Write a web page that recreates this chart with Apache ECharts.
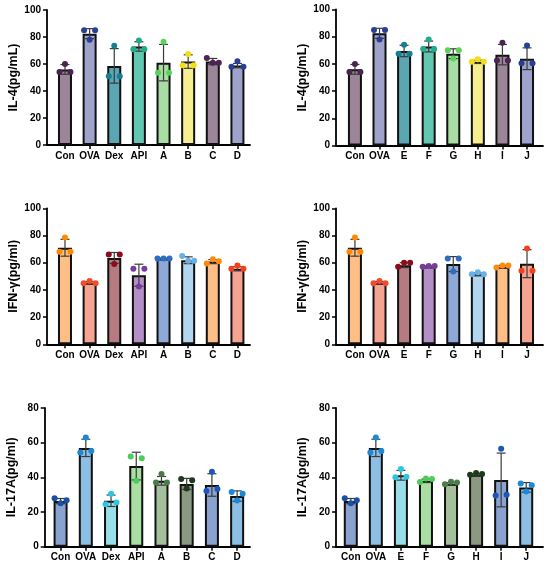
<!DOCTYPE html>
<html>
<head>
<meta charset="utf-8">
<script src="https://cdn.jsdelivr.net/npm/echarts@6/dist/echarts.min.js"></script>
<style>
html, body { margin: 0; padding: 0; background: #fff; }
#main { width: 550px; height: 569px; }
</style>
</head>
<body>
<div id="main"></div>
<script>
// groups
var groupsLeft = ['Con', 'OVA', 'Dex', 'API', 'A', 'B', 'C', 'D'];
var groupsRight = ['Con', 'OVA', 'E', 'F', 'G', 'H', 'I', 'J'];

// IL-4, left panel
var il4LeftMean = [56, 82.5, 58.6, 73, 61, 61.8, 61.8, 58.8];
var il4LeftSd = [3.6, 3.7, 12.8, 3.5, 13.5, 5, 2.3, 1.6];
var il4LeftDots = [[60, 54, 54], [85, 78, 85], [51, 73.5, 51], [71, 77.5, 71],
    [53.5, 76.5, 53.5], [59, 67.5, 59], [64.5, 61, 61], [58, 62, 58]];

// IL-4, right panel
var il4RightMean = [56, 82.5, 69.5, 72.8, 67.5, 61.5, 66.8, 63.8];
var il4RightSd = [3.6, 3.7, 4.2, 4, 3.6, 1.2, 7.5, 8];
var il4RightDots = [[60, 54, 54], [85, 78, 85], [67.5, 74, 67.5], [71, 78, 71],
    [70, 64, 70], [61.5, 63.5, 61.5], [62.5, 75.5, 62.5], [60.5, 73.5, 60.5]];

// IFN-γ, left panel
var ifnLeftMean = [71, 45.3, 63.5, 50.8, 63, 61.8, 60.8, 55.5];
var ifnLeftSd = [6.2, 0.9, 4, 8.1, 0.4, 2.5, 1.5, 1.5];
var ifnLeftDots = [[68, 78.5, 68], [44.8, 46.5, 44.8], [66, 59, 66], [55.5, 42.5, 55.5],
    [63, 63, 63], [65, 61.5, 61.5], [59.5, 62.5, 61], [55.5, 58, 55.5]];

// IFN-γ, right panel
var ifnRightMean = [71, 45.3, 58.2, 57.2, 59, 51.5, 57, 59.3];
var ifnRightSd = [6.2, 0.9, 1.8, 0.6, 5.5, 1, 1, 10.3];
var ifnRightDots = [[68, 78.5, 68], [44.8, 46.5, 44.8], [57, 60, 60], [57, 57.5, 57.5],
    [63, 53.5, 63], [51.5, 53, 51.5], [56.5, 58, 58], [54, 70.5, 54]];

// IL-17A, left panel
var il17LeftMean = [26.3, 57, 26.5, 46.5, 38, 36.2, 35.6, 29.2];
var il17LeftSd = [1.5, 5, 3.3, 8, 2.5, 3.2, 6.5, 3];
var il17LeftDots = [[28, 25, 26.8], [54.4, 63, 55.2], [24.5, 30.5, 25.5], [52, 38, 51],
    [37, 42, 37], [39, 33.5, 38.3], [32.1, 43.3, 33.3], [31.5, 26.7, 30.6]];

// IL-17A, right panel
var il17RightMean = [26.3, 57, 41.2, 38, 36.2, 41.5, 38.5, 34.2];
var il17RightSd = [1.5, 5, 2.8, 1, 0.8, 0.6, 15.5, 2.8];
var il17RightDots = [[28, 25, 26.8], [54.4, 63, 55.2], [40, 44.8, 40.4], [37.3, 39.3, 39],
    [36, 37.5, 37], [41.5, 42.5, 42], [29.6, 56.5, 30], [36.5, 31.8, 35.4]];

// colours
var il4Fill = ['#9c8499', '#9fa3cb', '#5aa7b3', '#62c7b1', '#a8dea3', '#f7ee8f', '#9c8499', '#9fa3cb'];
var il4Dot = ['#4b2450', '#2b3f91', '#167f93', '#1fae8c', '#5ad35b', '#f4dd14', '#4b2450', '#2b3f91'];
var ifnFill = ['#fdbf86', '#f6a392', '#b67b80', '#b48ec6', '#8ea8d7', '#b2d6ef', '#fdbf86', '#f6a392'];
var ifnDot = ['#ff8a00', '#f24b2c', '#8a0d1d', '#7a3c9c', '#2e6dbf', '#66b2e6', '#ff8a10', '#f2401c'];
var il17Fill = ['#8aa2cf', '#8dbfe5', '#98dfe9', '#a9dfa3', '#a5bf9d', '#8b9983', '#8aa2cf', '#8dbfe5'];
var il17Dot = ['#1a4fa6', '#1a89d6', '#2cc7df', '#4bcd5a', '#4a7b48', '#1d3a1c', '#1b58b6', '#1a89d6'];

var FONT = "'Liberation Sans', Arial, sans-serif";

var panels = [
    {grid: {left: 47, top: 10, width: 203, height: 135}, xMin: -0.73, xMax: 7.51, yMax: 100,
        cats: groupsLeft, name: 'IL-4(pg/mL)', mean: il4LeftMean, sd: il4LeftSd, dots: il4LeftDots, fill: il4Fill, dot: il4Dot},
    {grid: {left: 336, top: 9.5, width: 207, height: 136}, xMin: -0.77, xMax: 7.65, yMax: 100,
        cats: groupsRight, name: 'IL-4(pg/mL)', mean: il4RightMean, sd: il4RightSd, dots: il4RightDots, fill: il4Fill, dot: il4Dot},
    {grid: {left: 47, top: 208.3, width: 203, height: 136}, xMin: -0.73, xMax: 7.51, yMax: 100,
        cats: groupsLeft, name: 'IFN-γ(pg/ml)', mean: ifnLeftMean, sd: ifnLeftSd, dots: ifnLeftDots, fill: ifnFill, dot: ifnDot},
    {grid: {left: 336, top: 208.3, width: 207, height: 136}, xMin: -0.77, xMax: 7.65, yMax: 100,
        cats: groupsRight, name: 'IFN-γ(pg/ml)', mean: ifnRightMean, sd: ifnRightSd, dots: ifnRightDots, fill: ifnFill, dot: ifnDot},
    {grid: {left: 44.7, top: 408, width: 205.3, height: 138.7}, xMin: -0.63, xMax: 7.51, yMax: 80,
        cats: groupsLeft, name: 'IL-17A(pg/ml)', mean: il17LeftMean, sd: il17LeftSd, dots: il17LeftDots, fill: il17Fill, dot: il17Dot},
    {grid: {left: 336, top: 408, width: 207, height: 138.7}, xMin: -0.59, xMax: 7.67, yMax: 80,
        cats: groupsRight, name: 'IL-17A(pg/ml)', mean: il17RightMean, sd: il17RightSd, dots: il17RightDots, fill: il17Fill, dot: il17Dot}
];

var chart = echarts.init(document.getElementById('main'));

function errorRender(params, api) {
    var x = api.value(0), m = api.value(1), s = api.value(2);
    var top = api.coord([x, m + s]);
    var bot = api.coord([x, m - s]);
    var st = {stroke: '#3a3a3a', lineWidth: 1.2};
    var w = 4.5;
    return {
        type: 'group',
        children: [
            {type: 'line', shape: {x1: top[0], y1: top[1], x2: bot[0], y2: bot[1]}, style: st},
            {type: 'line', shape: {x1: top[0] - w, y1: top[1], x2: top[0] + w, y2: top[1]}, style: st},
            {type: 'line', shape: {x1: bot[0] - w, y1: bot[1], x2: bot[0] + w, y2: bot[1]}, style: st}
        ]
    };
}

// spread dots sideways when they would overlap (like the prism scatter)
function dotRender(colors) {
    return function (params, api) {
        var x = api.value(0);
        var pts = [];
        for (var j = 0; j < 3; j++) {
            pts.push({j: j, p: api.coord([x, api.value(j + 1)])});
        }
        var sorted = pts.slice().sort(function (a, b) { return a.p[1] - b.p[1]; });
        var clusters = [], cur = [sorted[0]];
        for (var k = 1; k < sorted.length; k++) {
            if (sorted[k].p[1] - sorted[k - 1].p[1] < 5.5) {
                cur.push(sorted[k]);
            } else {
                clusters.push(cur);
                cur = [sorted[k]];
            }
        }
        clusters.push(cur);
        var slots = {1: [0], 2: [-5.5, 5.5], 3: [-6, 0, 6]};
        var children = [];
        clusters.forEach(function (c) {
            c.sort(function (a, b) { return a.j - b.j; });
            c.forEach(function (d, n) {
                children.push({
                    type: 'circle',
                    shape: {cx: d.p[0] + slots[c.length][n], cy: d.p[1], r: 3},
                    style: {fill: colors[x]}
                });
            });
        });
        return {type: 'group', children: children};
    };
}

var grids = [], xAxes = [], yAxes = [], series = [];
var catIdx = [0, 1, 2, 3, 4, 5, 6, 7];

panels.forEach(function (p, n) {
    grids.push(p.grid);
    xAxes.push({
        type: 'value', gridIndex: n, min: p.xMin, max: p.xMax,
        splitLine: {show: false},
        axisLine: {show: true, onZero: false, lineStyle: {color: '#000', width: 1.8}},
        axisTick: {show: true, customValues: catIdx, length: 4, lineStyle: {color: '#000', width: 1.5}},
        axisLabel: {
            customValues: catIdx, margin: 6, color: '#000', fontSize: 10, fontWeight: 'bold', fontFamily: FONT,
            formatter: (function (cats) { return function (v) { return cats[Math.round(v)]; }; })(p.cats)
        }
    });
    yAxes.push({
        type: 'value', gridIndex: n, min: 0, max: p.yMax, interval: 20,
        splitLine: {show: false},
        axisLine: {show: true, onZero: false, lineStyle: {color: '#000', width: 1.8}},
        axisTick: {show: true, length: 4, lineStyle: {color: '#000', width: 1.5}},
        axisLabel: {margin: 6, color: '#000', fontSize: 10, fontWeight: 'bold', fontFamily: FONT},
        name: p.name, nameLocation: 'middle', nameGap: 27,
        nameTextStyle: {color: '#000', fontSize: 12.5, fontWeight: 'bold', fontFamily: FONT}
    });

    series.push({
        type: 'bar', xAxisIndex: n, yAxisIndex: n, barWidth: 14,
        data: p.mean.map(function (v, i) {
            return {value: [i, v], itemStyle: {color: p.fill[i]}};
        }),
        itemStyle: {borderColor: '#111', borderWidth: 2}
    });
    series.push({
        type: 'custom', xAxisIndex: n, yAxisIndex: n, z: 3,
        renderItem: errorRender,
        encode: {x: 0, y: 1},
        data: p.mean.map(function (v, i) { return [i, v, p.sd[i]]; })
    });
    series.push({
        type: 'custom', xAxisIndex: n, yAxisIndex: n, z: 4,
        renderItem: dotRender(p.dot),
        encode: {x: 0, y: [1, 2, 3]},
        data: p.dots.map(function (d, i) { return [i, d[0], d[1], d[2]]; })
    });
});

chart.setOption({
    animation: false,
    backgroundColor: '#fff',
    grid: grids,
    xAxis: xAxes,
    yAxis: yAxes,
    series: series
});
</script>
</body>
</html>
